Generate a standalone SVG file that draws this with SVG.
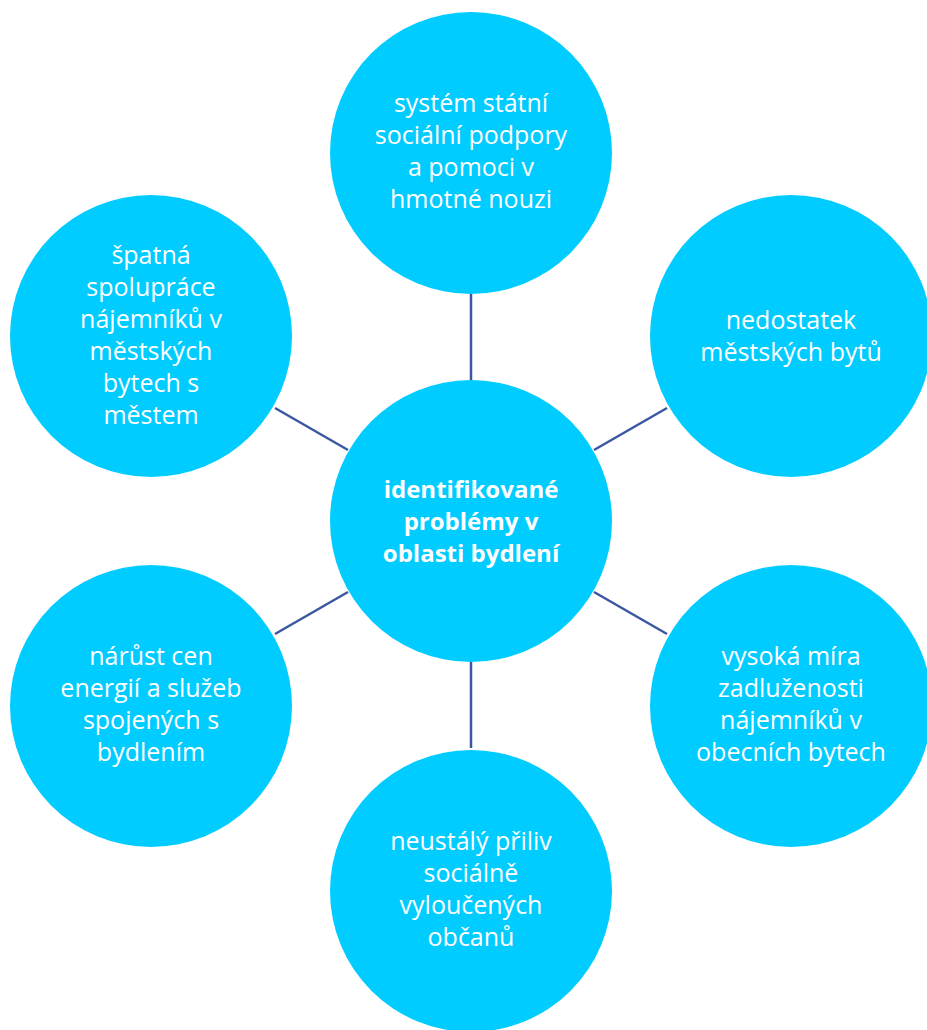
<svg xmlns="http://www.w3.org/2000/svg" width="927" height="1030" viewBox="0 0 927 1030">
<style>
.c{fill:#00CCFF}
.t{fill:#FFFFFF;font-family:"Open Sans","Liberation Sans",sans-serif;font-size:25px;text-anchor:middle}
.b{font-weight:bold;font-size:24px}
.l{stroke:#3B57A2;stroke-width:2.5;fill:none}
</style>
<rect width="927" height="1030" fill="#FFFFFF"/>
<g id="connectors">
<line class="l" x1="471" y1="293" x2="471" y2="380"/>
<line class="l" x1="471" y1="662" x2="471" y2="748"/>
<line class="l" x1="275" y1="408" x2="348" y2="450"/>
<line class="l" x1="667" y1="408" x2="594" y2="450"/>
<line class="l" x1="275" y1="634" x2="348" y2="592"/>
<line class="l" x1="667" y1="634" x2="594" y2="592"/>
</g>
<g id="center">
<circle class="c" cx="471" cy="521" r="141"/>
<text class="t b"><tspan x="471" y="498">identifikované</tspan><tspan x="471" y="530">problémy v</tspan><tspan x="471" y="562">oblasti bydlení</tspan></text>
</g>
<g id="top">
<circle class="c" cx="471" cy="153" r="141"/>
<text class="t"><tspan x="471" y="112">systém státní</tspan><tspan x="471" y="144">sociální podpory</tspan><tspan x="471" y="176">a pomoci v</tspan><tspan x="471" y="208">hmotné nouzi</tspan></text>
</g>
<g id="right-top">
<circle class="c" cx="791" cy="336" r="141"/>
<text class="t"><tspan x="791" y="329">nedostatek</tspan><tspan x="791" y="361">městských bytů</tspan></text>
</g>
<g id="right-bottom">
<circle class="c" cx="791" cy="706" r="141"/>
<text class="t"><tspan x="791" y="665">vysoká míra</tspan><tspan x="791" y="697">zadluženosti</tspan><tspan x="791" y="729">nájemníků v</tspan><tspan x="791" y="761">obecních bytech</tspan></text>
</g>
<g id="bottom">
<circle class="c" cx="471" cy="891" r="141"/>
<text class="t"><tspan x="471" y="850">neustálý přiliv</tspan><tspan x="471" y="882">sociálně</tspan><tspan x="471" y="914">vyloučených</tspan><tspan x="471" y="946">občanů</tspan></text>
</g>
<g id="left-bottom">
<circle class="c" cx="151" cy="706" r="141"/>
<text class="t"><tspan x="151" y="665">nárůst cen</tspan><tspan x="151" y="697">energií a služeb</tspan><tspan x="151" y="729">spojených s</tspan><tspan x="151" y="761">bydlením</tspan></text>
</g>
<g id="left-top">
<circle class="c" cx="151" cy="336" r="141"/>
<text class="t"><tspan x="151" y="264">špatná</tspan><tspan x="151" y="296">spolupráce</tspan><tspan x="151" y="328">nájemníků v</tspan><tspan x="151" y="360">městských</tspan><tspan x="151" y="392">bytech s</tspan><tspan x="151" y="424">městem</tspan></text>
</g>
</svg>
